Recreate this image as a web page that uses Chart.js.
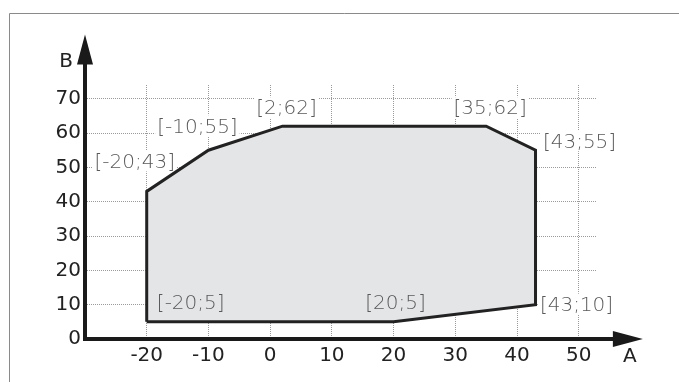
<!DOCTYPE html>
<html>
<head>
<meta charset="utf-8">
<script src="https://cdn.jsdelivr.net/npm/chart.js@4"></script>
<style>
  html, body { margin: 0; padding: 0; background: #fff; }
  #wrap { width: 679px; height: 382px; position: relative; }
</style>
</head>
<body>
<div id="wrap"><canvas id="c" width="679" height="382"></canvas></div>
<script>
// Operating envelope: corner points of the region, in drawing order
const cornerA = [-20, -20, -10, 2, 35, 43, 43, 20];
const cornerB = [5, 43, 55, 62, 62, 55, 10, 5];

// Axis ticks
const tickA = [-20, -10, 0, 10, 20, 30, 40, 50];
const tickB = [0, 10, 20, 30, 40, 50, 60, 70];

// Axis extents (grid area and arrow tips)
const rangeA = { min: -30, max: 52.8, arrowTip: 60.4 };
const rangeB = { min: 0, max: 74, arrowTip: 88.7 };
const axisNames = { x: 'A', y: 'B' };

// Where each corner caption sits relative to its corner (px)
const captionShift = [
  [44, -20], [-12, -31], [-11, -25], [4, -19],
  [4, -19], [44, -10], [41, -1], [2, -20]
];

const polygon = cornerA.map((a, i) => ({ x: a, y: cornerB[i] }));
polygon.push({ x: cornerA[0], y: cornerB[0] });

const tickFont = { family: 'DejaVu Sans', size: 20 };
const captionFont = '200 20px "DejaVu Sans"';

function captions(chart) {
  const ctx = chart.ctx;
  const xs = chart.scales.x, ys = chart.scales.y;
  ctx.font = captionFont;
  return cornerA.map((a, i) => {
    const b = cornerB[i];
    const text = '[' + a + ';' + b + ']';
    return {
      text,
      cx: xs.getPixelForValue(a) + captionShift[i][0],
      cy: ys.getPixelForValue(b) + captionShift[i][1],
      w: ctx.measureText(text).width
    };
  });
}

const decorations = {
  id: 'decorations',
  beforeDraw(chart) {
    const ctx = chart.ctx;
    ctx.save();
    ctx.strokeStyle = '#8a8a8a';
    ctx.lineWidth = 1;
    ctx.beginPath();
    ctx.moveTo(9.5, 400);
    ctx.lineTo(9.5, 13.5);
    ctx.lineTo(700, 13.5);
    ctx.stroke();
    ctx.restore();
  },
  beforeDatasetsDraw(chart) {
    // white backing behind captions so the grid does not run through them
    const ctx = chart.ctx;
    ctx.save();
    ctx.fillStyle = '#fff';
    captions(chart).forEach(c => {
      ctx.fillRect(c.cx - c.w / 2 - 2, c.cy - 10, c.w + 4, 21);
    });
    ctx.restore();
  },
  afterDatasetsDraw(chart) {
    const ctx = chart.ctx;
    const xs = chart.scales.x, ys = chart.scales.y;
    ctx.save();
    ctx.font = captionFont;
    ctx.textAlign = 'center';
    ctx.textBaseline = 'alphabetic';
    ctx.fillStyle = '#5a5a5a';
    captions(chart).forEach(c => ctx.fillText(c.text, c.cx, c.cy + 7.3));

    const x0 = xs.getPixelForValue(rangeA.min);
    const y0 = ys.getPixelForValue(rangeB.min);
    const xTip = xs.getPixelForValue(rangeA.arrowTip);
    const yTip = ys.getPixelForValue(rangeB.arrowTip);
    const len = 30, half = 8;
    ctx.strokeStyle = '#1a1a1a';
    ctx.fillStyle = '#1a1a1a';
    ctx.lineWidth = 4;
    ctx.lineCap = 'butt';
    ctx.beginPath();
    ctx.moveTo(xTip - len + 2, y0);
    ctx.lineTo(x0, y0);
    ctx.lineTo(x0, yTip + len - 2);
    ctx.stroke();
    // arrow heads
    ctx.beginPath();
    ctx.moveTo(xTip, y0);
    ctx.lineTo(xTip - len, y0 - half);
    ctx.lineTo(xTip - len, y0 + half);
    ctx.closePath();
    ctx.fill();
    ctx.beginPath();
    ctx.moveTo(x0, yTip);
    ctx.lineTo(x0 - half, yTip + len);
    ctx.lineTo(x0 + half, yTip + len);
    ctx.closePath();
    ctx.fill();
    // axis names
    ctx.font = '20px "DejaVu Sans"';
    ctx.fillStyle = '#222';
    ctx.fillText(axisNames.x, xTip - 13, y0 + 23);
    ctx.fillText(axisNames.y, x0 - 19, yTip + 32);
    ctx.restore();
  }
};

new Chart(document.getElementById('c'), {
  type: 'scatter',
  data: {
    datasets: [{
      data: polygon,
      showLine: true,
      fill: 'shape',
      backgroundColor: '#e4e5e7',
      borderColor: '#222',
      borderWidth: 3,
      borderJoinStyle: 'miter',
      pointRadius: 0,
      pointHoverRadius: 0,
      tension: 0
    }]
  },
  options: {
    responsive: false,
    animation: false,
    devicePixelRatio: 1,
    layout: { padding: { left: 0, top: 85, right: 83, bottom: 0 } },
    plugins: { legend: { display: false }, tooltip: { enabled: false } },
    scales: {
      x: {
        type: 'linear',
        position: 'bottom',
        min: rangeA.min,
        max: rangeA.max,
        afterBuildTicks: s => { s.ticks = tickA.map(v => ({ value: v })); },
        afterFit: s => { s.height = 43; },
        grid: { color: '#9a9a9a', lineWidth: 1, drawTicks: false },
        border: { display: false, dash: [1, 1] },
        ticks: { font: tickFont, color: '#222', padding: 5, maxRotation: 0, autoSkip: false }
      },
      y: {
        type: 'linear',
        position: 'left',
        min: rangeB.min,
        max: rangeB.max,
        afterBuildTicks: s => { s.ticks = tickB.map(v => ({ value: v })); },
        afterFit: s => { s.width = 85; },
        grid: { color: '#9a9a9a', lineWidth: 1, drawTicks: false },
        border: { display: false, dash: [1, 1] },
        ticks: { font: tickFont, color: '#222', padding: 4, autoSkip: false }
      }
    }
  },
  plugins: [decorations]
});
</script>
</body>
</html>
